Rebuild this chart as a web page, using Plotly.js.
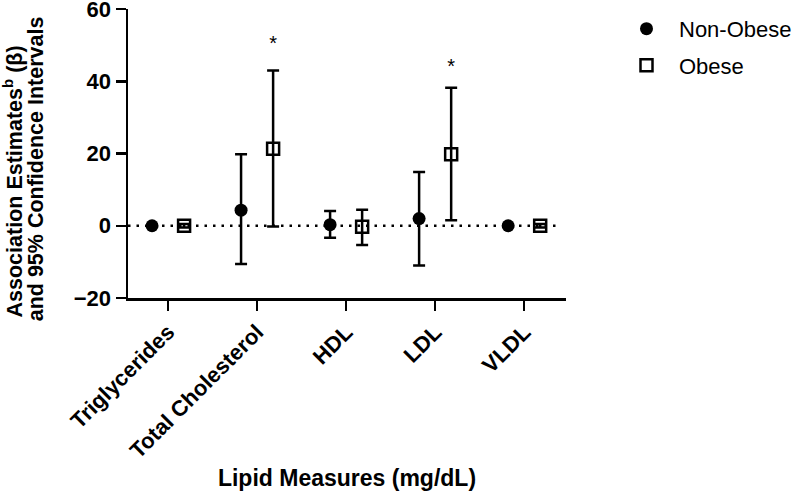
<!DOCTYPE html>
<html>
<head>
<meta charset="utf-8">
<script src="https://cdn.plot.ly/plotly-3.0.1.min.js"></script>
<style>html,body{margin:0;padding:0;background:#fff;}</style>
</head>
<body>
<div id="chart" style="width:800px;height:491px;"></div>
<script>
// ---- data ----
const categories = ['Triglycerides', 'Total Cholesterol', 'HDL', 'LDL', 'VLDL'];
const nonObeseBeta  = [0.0, 4.3, 0.3, 2.0, 0.0];
const nonObeseLower = [-0.3, -10.6, -3.3, -11.0, -0.3];
const nonObeseUpper = [0.3, 19.8, 4.1, 14.9, 0.3];
const obeseBeta  = [0.0, 21.3, -0.3, 19.8, 0.0];
const obeseLower = [-0.5, -0.2, -5.3, 1.5, -0.5];
const obeseUpper = [0.5, 43.0, 4.4, 38.2, 0.5];
const significanceY = [null, 50.1, null, 43.7, null];
const significanceText = ['', '*', '', '*', ''];
const yTicks = [-20, 0, 20, 40, 60];
const yTitleLines = ['Association Estimates<sup>b</sup> (β)', 'and 95% Confidence Intervals'];
const xTitle = 'Lipid Measures (mg/dL)';

// ---- build ----
const groupOffset = 0.18;
const idx = categories.map((c, i) => i);
const xNon = idx.map(i => i - groupOffset);
const xOb = idx.map(i => i + groupOffset);
const FONT = '"Liberation Sans", Arial, sans-serif';

const nonObese = {
  type: 'scatter', mode: 'markers', name: 'Non-Obese', legendgroup: 'a',
  x: xNon, y: nonObeseBeta,
  marker: {symbol: 'circle', size: 13, color: '#000'},
  error_y: {type: 'data', symmetric: false,
    array: nonObeseUpper.map((u, i) => u - nonObeseBeta[i]),
    arrayminus: nonObeseLower.map((l, i) => nonObeseBeta[i] - l),
    color: '#000', thickness: 2.5, width: 6}
};
const obese = {
  type: 'scatter', mode: 'markers', name: 'Obese', legendgroup: 'b',
  x: xOb, y: obeseBeta,
  marker: {symbol: 'square-open', size: 12, color: '#000', line: {width: 2.5, color: '#000'}},
  error_y: {type: 'data', symmetric: false,
    array: obeseUpper.map((u, i) => u - obeseBeta[i]),
    arrayminus: obeseLower.map((l, i) => obeseBeta[i] - l),
    color: '#000', thickness: 2.5, width: 6}
};
const stars = {
  type: 'scatter', mode: 'text', showlegend: false, hoverinfo: 'skip',
  x: xOb, y: significanceY, text: significanceText,
  textposition: 'middle center',
  textfont: {family: FONT, size: 20, color: '#000'}
};

const axisCommon = {
  showline: true, linewidth: 2.5, linecolor: '#000', mirror: false,
  ticks: 'outside', ticklen: 10, tickwidth: 2.5, tickcolor: '#000',
  showgrid: false, zeroline: false, ticklabeloverflow: 'allow',
  tickfont: {family: FONT, size: 22, color: '#000', weight: 700}
};

const titleFont = {family: FONT, size: 21.5, color: '#000', weight: 700};
const layout = {
  width: 800, height: 491, autosize: false,
  margin: {l: 128, r: 234, t: 9, b: 193, pad: 0},
  paper_bgcolor: '#fff', plot_bgcolor: '#fff',
  font: {family: FONT, color: '#000'},
  showlegend: true,
  legend: {xref: 'container', yref: 'container', x: 0.7675, y: 0.984, xanchor: 'left', yanchor: 'top',
    font: {family: FONT, size: 22, color: '#000'},
    traceorder: 'grouped', tracegroupgap: 5, itemwidth: 55, bgcolor: 'rgba(0,0,0,0)'},
  xaxis: Object.assign({}, axisCommon, {
    range: [-0.45, 4.47], tickmode: 'array', tickvals: idx, ticktext: categories,
    tickangle: -45,
    title: {text: xTitle, standoff: 12,
      font: {family: FONT, size: 23, color: '#000', weight: 700}}
  }),
  yaxis: Object.assign({}, axisCommon, {
    range: [-20, 60.0001], tickmode: 'array', tickvals: yTicks
  }),
  annotations: [
    {text: yTitleLines[0], xref: 'paper', yref: 'paper', x: -0.2637, y: 0.405,
     xanchor: 'center', yanchor: 'middle', textangle: -90, showarrow: false, font: titleFont},
    {text: yTitleLines[1], xref: 'paper', yref: 'paper', x: -0.2112, y: 0.447,
     xanchor: 'center', yanchor: 'middle', textangle: -90, showarrow: false, font: titleFont}
  ],
  shapes: [{type: 'line', layer: 'below', xref: 'paper', x0: 0, x1: 0.98, yref: 'y', y0: 0, y1: 0,
    line: {color: '#000', width: 2.5, dash: '2.5px,6px'}}]
};

Plotly.newPlot('chart', [nonObese, obese, stars], layout, {displayModeBar: false, staticPlot: true});
</script>
</body>
</html>
